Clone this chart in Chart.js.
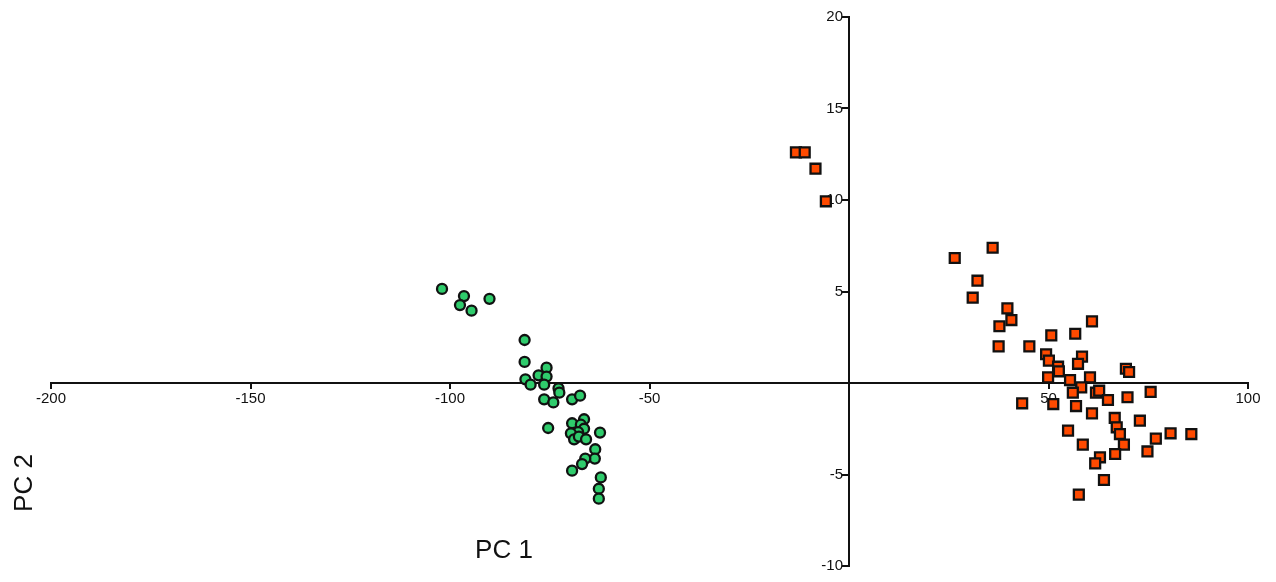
<!DOCTYPE html>
<html>
<head>
<meta charset="utf-8">
<script src="https://cdn.jsdelivr.net/npm/chart.js@4.4.0/dist/chart.umd.min.js"></script>
<style>
html,body{margin:0;padding:0;background:#fff;}
#wrap{width:1276px;height:582px;position:relative;}
</style>
</head>
<body>
<div id="wrap"><canvas id="c" width="1276" height="582"></canvas></div>
<script>
// Group 1 (green circles)
const groupAX = [-102.0,-96.5,-97.5,-94.6,-90.1,-81.3,-81.3,-75.8,-77.8,-75.8,-81.1,-79.8,-76.4,-72.8,-72.6,-76.4,-74.1,-69.4,-67.4,-75.4,-69.4,-66.4,-67.2,-66.4,-67.9,-69.7,-68.9,-67.7,-65.9,-62.4,-63.6,-63.7,-66.1,-66.9,-69.4,-62.2,-62.7,-62.7];
const groupAY = [5.14,4.75,4.26,3.95,4.6,2.35,1.15,0.84,0.42,0.35,0.2,-0.09,-0.09,-0.29,-0.53,-0.89,-1.06,-0.89,-0.69,-2.46,-2.2,-1.98,-2.28,-2.5,-2.68,-2.75,-3.08,-2.93,-3.08,-2.71,-3.62,-4.13,-4.13,-4.43,-4.79,-5.16,-5.78,-6.32];
// Group 2 (orange squares)
const groupBX = [-13.3,-11.1,-8.4,-5.8,36.0,26.5,32.2,31.0,39.7,40.7,37.7,60.9,50.7,56.7,37.5,45.2,49.4,58.4,57.4,50.1,52.4,52.6,69.4,70.2,49.9,55.4,60.4,58.2,56.1,61.9,62.7,75.6,64.9,69.8,43.4,51.2,56.9,60.9,66.6,72.9,67.1,67.9,54.9,80.6,85.8,76.9,68.9,58.6,74.8,66.7,62.9,61.7,63.9,57.6];
const groupBY = [12.6,12.6,11.71,9.93,7.39,6.83,5.59,4.66,4.08,3.44,3.1,3.37,2.6,2.69,2.0,2.0,1.57,1.44,1.05,1.22,0.89,0.64,0.78,0.6,0.31,0.16,0.31,-0.24,-0.53,-0.53,-0.42,-0.49,-0.93,-0.78,-1.11,-1.15,-1.26,-1.66,-1.91,-2.06,-2.42,-2.79,-2.6,-2.75,-2.79,-3.04,-3.37,-3.37,-3.74,-3.88,-4.06,-4.39,-5.3,-6.1];
const xTicks = [-200,-150,-100,-50,0,50,100];
const yTicks = [-10,-5,0,5,10,15,20];
const xTitle = 'PC 1';
const yTitle = 'PC 2';

const FONT = '"Liberation Sans", Arial, sans-serif';
const toPts = (xs, ys) => xs.map((x, i) => ({x: x, y: ys[i]}));

const labelsPlugin = {
  id: 'ylabels',
  beforeDatasetsDraw(chart) {
    const ctx = chart.ctx;
    const ys = chart.scales.y, xs = chart.scales.x;
    const ax = xs.getPixelForValue(0);
    ctx.save();
    ctx.fillStyle = '#111';
    ctx.font = '15px ' + FONT;
    ctx.textAlign = 'right';
    ctx.textBaseline = 'middle';
    yTicks.forEach(v => {
      if (v === 0) return;
      ctx.fillText(String(v), ax - 6, ys.getPixelForValue(v));
    });
    ctx.restore();
  },
  afterDraw(chart) {
    const ctx = chart.ctx;
    ctx.save();
    ctx.fillStyle = '#111';
    ctx.font = '26px ' + FONT;
    ctx.textAlign = 'center';
    ctx.textBaseline = 'middle';
    ctx.fillText(xTitle, 504, 551);
    ctx.translate(25, 483);
    ctx.rotate(-Math.PI / 2);
    ctx.fillText(yTitle, 0, 0);
    ctx.restore();
  }
};

new Chart(document.getElementById('c'), {
  type: 'scatter',
  data: {
    datasets: [
      {
        label: 'A',
        data: toPts(groupAX, groupAY),
        pointStyle: 'circle',
        pointRadius: 5,
        pointBorderWidth: 2.3,
        backgroundColor: '#2fcc6c',
        borderColor: '#111'
      },
      {
        label: 'B',
        data: toPts(groupBX, groupBY),
        pointStyle: 'rect',
        pointRadius: 7,
        pointBorderWidth: 2.3,
        backgroundColor: '#ff4a00',
        borderColor: '#111'
      }
    ]
  },
  options: {
    responsive: false,
    animation: false,
    events: [],
    layout: {padding: {left: 51, right: 28, top: 17, bottom: 16}},
    plugins: {legend: {display: false}, tooltip: {enabled: false}},
    scales: {
      x: {
        type: 'linear',
        position: {y: 0},
        min: xTicks[0],
        max: xTicks[xTicks.length - 1],
        afterBuildTicks(scale) { scale.ticks = xTicks.map(v => ({value: v})); },
        grid: {drawOnChartArea: false, drawTicks: true, tickLength: 5, color: '#111', lineWidth: 2},
        border: {display: true, color: '#111', width: 2},
        ticks: {
          color: '#111',
          padding: 2,
          maxRotation: 0,
          autoSkip: false,
          font: {family: FONT, size: 15},
          callback: v => (v === 0 ? '' : String(v))
        }
      },
      y: {
        type: 'linear',
        position: {x: 0},
        min: yTicks[0],
        max: yTicks[yTicks.length - 1],
        afterBuildTicks(scale) { scale.ticks = yTicks.map(v => ({value: v})); },
        grid: {drawOnChartArea: false, drawTicks: true, tickLength: 6, color: '#111', lineWidth: 2},
        border: {display: true, color: '#111', width: 2},
        ticks: {
          display: false,
          autoSkip: false
        }
      }
    }
  },
  plugins: [labelsPlugin]
});
</script>
</body>
</html>
